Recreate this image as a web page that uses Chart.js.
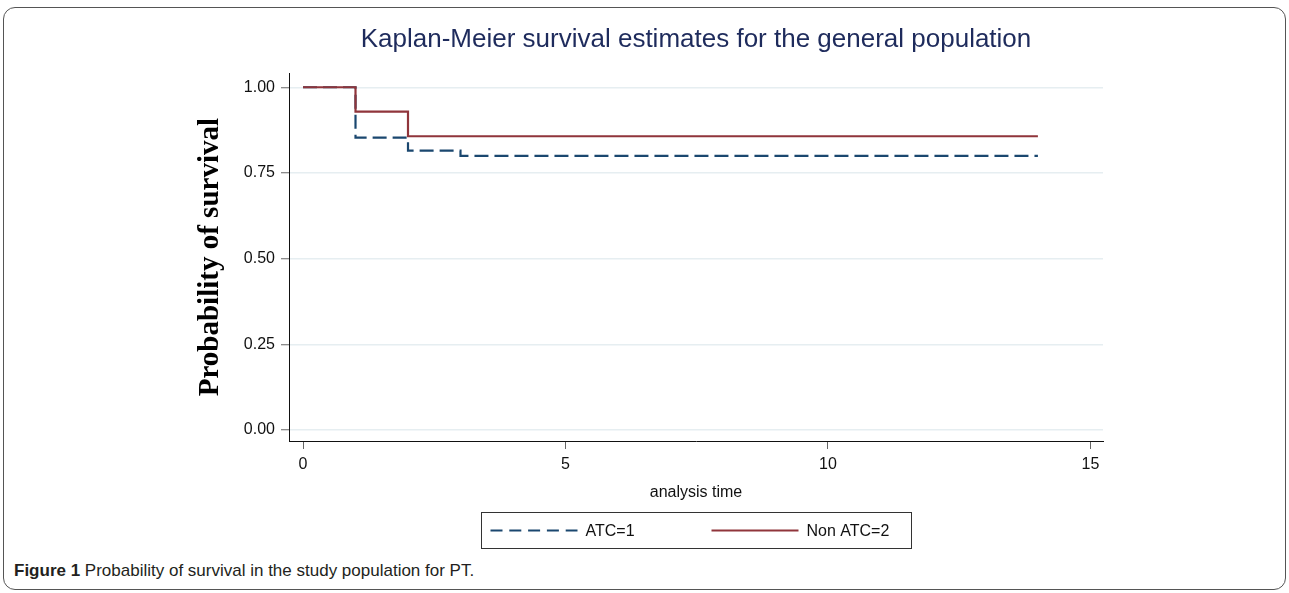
<!DOCTYPE html>
<html>
<head>
<meta charset="utf-8">
<script src="https://cdn.jsdelivr.net/npm/chart.js@4"></script>
<style>
  html, body { margin: 0; padding: 0; background: #fff; }
  body { width: 1289px; height: 593px; position: relative; overflow: hidden; }
  #frame {
    position: absolute; left: 3px; top: 7px; width: 1281px; height: 581px;
    border: 1px solid #555; border-radius: 12px;
  }
  #wrap { position: absolute; left: 0; top: 0; width: 1289px; height: 560px; }
  #caption {
    position: absolute; left: 14px; top: 561px;
    font-family: "Liberation Sans", Arial, sans-serif;
    font-size: 17px; color: #231f20;
  }
  #caption b { font-weight: bold; }
</style>
</head>
<body>
<div id="frame"></div>
<div id="wrap"><canvas id="chartId" width="1289" height="560"></canvas></div>
<div id="caption"><b>Figure 1</b> Probability of survival in the study population for PT.</div>
<script>
// Kaplan-Meier steps
var atcTimes = [0, 1, 2, 3, 14];
var atcSurv = [1.0, 0.853, 0.815, 0.800, 0.800];
var nonTimes = [0, 1, 2, 14];
var nonSurv = [1.0, 0.929, 0.857, 0.857];
var yTicks = [0, 0.25, 0.5, 0.75, 1];
var xTicks = [0, 5, 10, 15];
var seriesNames = ["ATC=1", "Non ATC=2"];

function toPoints(xs, ys) {
    return xs.map(function (x, i) { return { x: x, y: ys[i] }; });
}

// legend drawn inside a framed box, like the Stata original
var boxLegend = {
    id: 'boxLegend',
    afterDraw: function (chart) {
        var ctx = chart.ctx;
        var ca = chart.chartArea;
        var mid = (ca.left + ca.right) / 2;
        var left = Math.round(mid - 215) + 0.5, top = 512.5, w = 430, h = 36;
        ctx.save();
        ctx.strokeStyle = '#333';
        ctx.lineWidth = 1;
        ctx.strokeRect(left, top, w, h);
        var items = [chart.data.datasets[1], chart.data.datasets[0]];
        var offs = [9, 230];
        ctx.font = '16px "Liberation Sans", Arial, sans-serif';
        ctx.textBaseline = 'middle';
        ctx.fillStyle = '#111';
        items.forEach(function (ds, i) {
            var x0 = left + offs[i];
            var y = top + h / 2;
            ctx.beginPath();
            ctx.setLineDash(ds.borderDash ? [12, 6.8] : []);
            ctx.strokeStyle = ds.borderColor;
            ctx.lineWidth = 2;
            ctx.moveTo(x0, y);
            ctx.lineTo(x0 + 87, y);
            ctx.stroke();
            ctx.setLineDash([]);
            ctx.fillText(ds.label, x0 + 95, y + 1);
        });
        ctx.restore();
    }
};

window.onload = function () {
    var chrt = document.getElementById("chartId").getContext("2d");
    var chartId = new Chart(chrt, {
        type: 'line',
        data: {
            datasets: [{
                label: seriesNames[1],
                data: toPoints(nonTimes, nonSurv),
                borderColor: '#90353b',
                borderWidth: 2.2,
                stepped: true,
                pointRadius: 0,
                fill: false,
                order: 0
            }, {
                label: seriesNames[0],
                data: toPoints(atcTimes, atcSurv),
                borderColor: '#1a476f',
                borderWidth: 2.2,
                borderDash: [14, 6],
                stepped: true,
                pointRadius: 0,
                fill: false,
                order: 1
            }]
        },
        plugins: [boxLegend],
        options: {
            responsive: false,
            animation: false,
            layout: {
                padding: { left: 180, right: 186, top: 0, bottom: 48 }
            },
            plugins: {
                legend: { display: false },
                tooltip: { enabled: false },
                title: {
                    display: true,
                    fullSize: false,
                    text: 'Kaplan-Meier survival estimates for the general population',
                    color: '#1e2b5c',
                    font: { family: '"Liberation Sans", Arial, sans-serif', size: 26, weight: 'normal' },
                    padding: { top: 24, bottom: 18 }
                }
            },
            scales: {
                x: {
                    type: 'linear',
                    min: -0.267,
                    max: 15.24,
                    afterBuildTicks: function (s) { s.ticks = xTicks.map(function (v) { return { value: v }; }); },
                    afterFit: function (s) { s.height = 71; },
                    border: { display: true, color: '#111', width: 1 },
                    grid: { drawOnChartArea: false, drawTicks: true, tickLength: 8, tickColor: '#666', tickWidth: 1 },
                    ticks: {
                        padding: 6,
                        color: '#111',
                        font: { family: '"Liberation Sans", Arial, sans-serif', size: 16 },
                        maxRotation: 0
                    },
                    title: {
                        display: true,
                        text: 'analysis time',
                        color: '#111',
                        font: { family: '"Liberation Sans", Arial, sans-serif', size: 16 },
                        padding: { top: 0, bottom: 10 }
                    }
                },
                y: {
                    type: 'linear',
                    min: -0.032,
                    max: 1.041,
                    afterBuildTicks: function (s) { s.ticks = yTicks.map(function (v) { return { value: v }; }); },
                    afterFit: function (s) { s.width = 109; },
                    border: { display: true, color: '#111', width: 1 },
                    grid: { color: '#e6eef1', lineWidth: 1.5, tickLength: 8, tickColor: '#666', tickWidth: 1 },
                    ticks: {
                        padding: 6,
                        color: '#111',
                        font: { family: '"Liberation Sans", Arial, sans-serif', size: 16 },
                        callback: function (v) { return Number(v).toFixed(2); }
                    },
                    title: {
                        display: true,
                        text: 'Probability of survival',
                        color: '#000',
                        font: { family: '"Liberation Serif", "Times New Roman", serif', size: 29, weight: 'bold' },
                        padding: { top: 13, bottom: 0 }
                    }
                }
            }
        }
    });
};
</script>
</body>
</html>
